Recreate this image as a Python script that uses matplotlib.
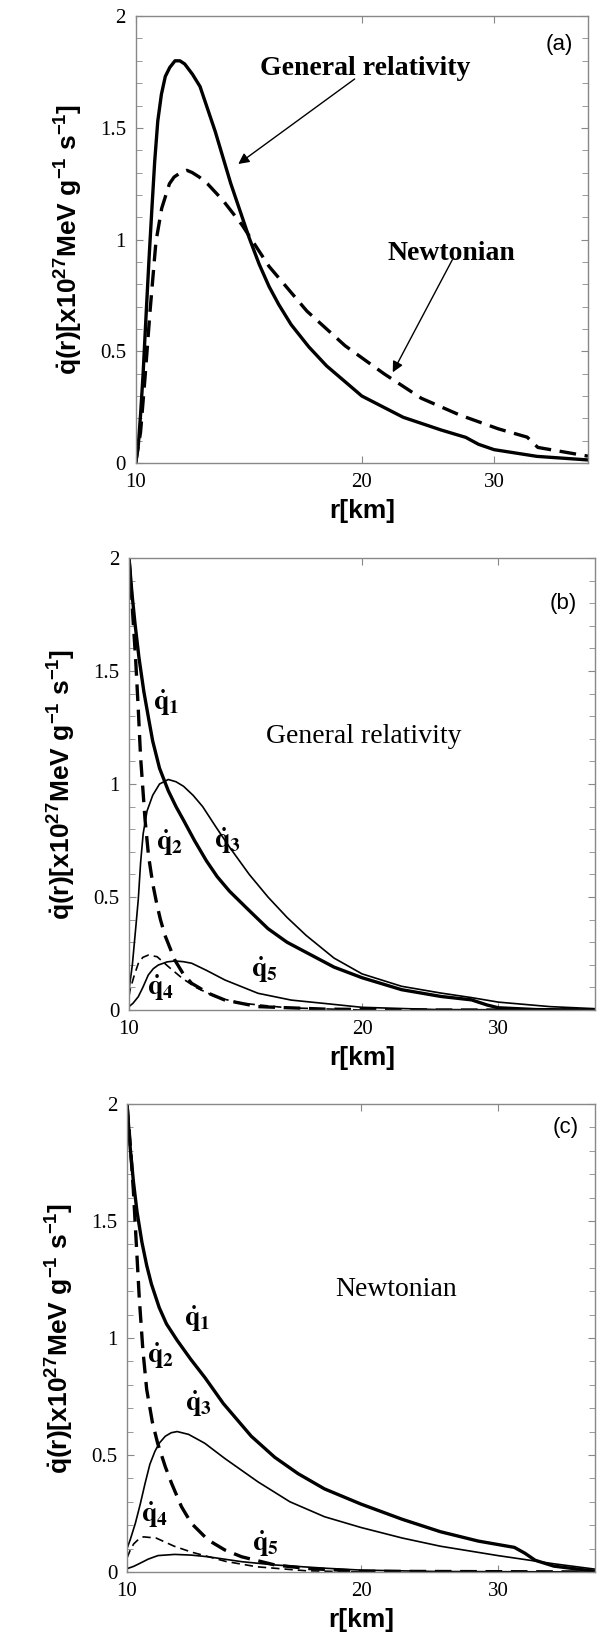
import matplotlib
matplotlib.use("Agg")
import matplotlib.pyplot as plt
from matplotlib.ticker import FixedLocator, NullLocator, MultipleLocator

plt.rcParams['font.family'] = ['Liberation Serif', 'DejaVu Serif']
plt.rcParams['mathtext.fontset'] = 'custom'
plt.rcParams['mathtext.rm'] = 'Liberation Sans'
plt.rcParams['mathtext.bf'] = 'Liberation Sans:bold'
plt.rcParams['mathtext.it'] = 'Liberation Sans:italic'

# ---- panel (a): total emission, GR vs Newtonian
r_a_gr = [10.0, 10.08, 10.15, 10.23, 10.33, 10.42, 10.51, 10.6, 10.7, 10.82, 10.95, 11.1,
          11.28, 11.45, 11.62, 11.9, 12.18, 12.76, 13.38, 14.17, 14.6, 15.05, 15.5, 16.1,
          17.0, 17.95, 20.0, 22.7, 25.5, 27.5, 28.6, 30.0, 34.2, 40.0]
q_a_gr = [0.0, 0.08, 0.216, 0.40, 0.68, 0.92, 1.14, 1.35, 1.53, 1.65, 1.73, 1.77,
          1.80, 1.80, 1.786, 1.74, 1.685, 1.484, 1.252, 1.005, 0.89, 0.79, 0.71, 0.62,
          0.52, 0.435, 0.30, 0.205, 0.148, 0.115, 0.084, 0.06, 0.03, 0.014]
r_a_nw = [10.0, 10.15, 10.3, 10.45, 10.64, 10.83, 11.09, 11.25, 11.48, 11.7, 11.89, 12.15,
          12.46, 13.07, 13.85, 15.05, 16.9, 19.0, 21.4, 24.0, 27.0, 30.4, 33.2, 34.3, 40.0]
q_a_nw = [0.0, 0.138, 0.40, 0.68, 0.99, 1.14, 1.25, 1.28, 1.30, 1.31, 1.30, 1.28,
          1.25, 1.175, 1.066, 0.88, 0.68, 0.525, 0.40, 0.29, 0.215, 0.153, 0.116, 0.07, 0.031]

# ---- panel (b): components, general relativity
r_b1 = [10.0, 10.09, 10.18, 10.3, 10.45, 10.6, 10.73, 10.95, 11.24, 11.5, 11.76, 12.15,
        12.59, 13.0, 13.49, 14.3, 15.12, 16.0, 16.94, 18.4, 20.0, 22.5, 25.3, 27.7, 29.0,
        30.0, 33.6, 40.0]
q_b1 = [2.0, 1.84, 1.71, 1.56, 1.41, 1.29, 1.19, 1.07, 0.97, 0.90, 0.84, 0.75,
        0.66, 0.59, 0.525, 0.44, 0.36, 0.30, 0.255, 0.19, 0.143, 0.09, 0.06, 0.045, 0.0225,
        0.01, 0.002, 0.0]
r_b2 = [10.0, 10.06, 10.12, 10.2, 10.28, 10.35, 10.49, 10.6, 10.73, 10.86, 10.98, 11.13,
        11.46, 11.75, 12.05, 12.67, 13.3, 14.68, 17.9, 25.0, 40.0]
q_b2 = [2.0, 1.88, 1.73, 1.55, 1.33, 1.12, 0.84, 0.68, 0.56, 0.47, 0.40, 0.33,
        0.221, 0.16, 0.118, 0.074, 0.044, 0.015, 0.004, 0.0, 0.0]
r_b3 = [10.0, 10.1, 10.2, 10.28, 10.35, 10.43, 10.55, 10.73, 10.95, 11.24, 11.5, 11.76,
        12.1, 12.45, 12.95, 13.49, 14.3, 15.12, 16.0, 16.94, 18.4, 20.0, 22.5, 25.3, 27.7,
        30.0, 35.0, 40.0]
q_b3 = [0.09, 0.2, 0.36, 0.49, 0.65, 0.78, 0.88, 0.95, 1.0, 1.02, 1.01, 0.99,
        0.95, 0.90, 0.81, 0.72, 0.60, 0.50, 0.41, 0.33, 0.23, 0.16, 0.105, 0.075, 0.055,
        0.035, 0.015, 0.006]
r_b4 = [10.0, 10.03, 10.15, 10.28, 10.42, 10.59, 10.87, 11.26, 11.72, 12.2, 13.0, 14.0, 16.0, 20.0]
q_b4 = [0.06, 0.088, 0.15, 0.206, 0.233, 0.243, 0.236, 0.19, 0.14, 0.1, 0.055, 0.03, 0.01, 0.0]
r_b5 = [10.0, 10.12, 10.28, 10.42, 10.59, 10.75, 10.91, 11.2, 11.46, 11.75, 12.05, 12.6,
        13.3, 14.68, 16.2, 17.9, 20.0, 25.0, 40.0]
q_b5 = [0.015, 0.03, 0.059, 0.1, 0.155, 0.183, 0.199, 0.213, 0.217, 0.214, 0.207, 0.175,
        0.133, 0.074, 0.044, 0.029, 0.012, 0.002, 0.0]

# ---- panel (c): components, Newtonian
r_c1 = [10.0, 10.09, 10.19, 10.3, 10.45, 10.6, 10.75, 11.0, 11.24, 11.6, 12.07, 12.6,
        13.3, 14.45, 15.49, 16.6, 17.95, 20.0, 22.6, 25.3, 28.3, 31.5, 32.5, 33.5, 35.4, 40.0]
q_c1 = [2.0, 1.82, 1.67, 1.54, 1.41, 1.31, 1.23, 1.13, 1.06, 0.99, 0.91, 0.83,
        0.72, 0.58, 0.49, 0.42, 0.355, 0.29, 0.225, 0.172, 0.132, 0.105, 0.08, 0.05, 0.025, 0.003]
r_c2 = [10.0, 10.1, 10.19, 10.28, 10.37, 10.48, 10.6, 10.78, 10.95, 11.2, 11.41, 11.75,
        12.1, 12.71, 13.36, 14.04, 15.49, 17.05, 20.0, 40.0]
q_c2 = [2.0, 1.82, 1.63, 1.40, 1.17, 0.95, 0.78, 0.64, 0.55, 0.45, 0.379, 0.279,
        0.208, 0.137, 0.094, 0.065, 0.03, 0.015, 0.003, 0.0]
r_c3 = [10.0, 10.1, 10.25, 10.4, 10.55, 10.7, 10.86, 11.0, 11.2, 11.4, 11.6, 12.0, 12.59,
        13.36, 14.74, 16.2, 17.95, 20.0, 22.6, 25.3, 30.0, 35.4, 40.0]
q_c3 = [0.1, 0.14, 0.208, 0.29, 0.379, 0.46, 0.515, 0.55, 0.58, 0.595, 0.60, 0.588, 0.55,
        0.485, 0.385, 0.30, 0.236, 0.19, 0.145, 0.11, 0.07, 0.035, 0.012]
r_c4 = [10.0, 10.1, 10.2, 10.35, 10.5, 10.9, 11.5, 12.1, 13.4, 14.7, 17.0, 20.0]
q_c4 = [0.06, 0.095, 0.12, 0.14, 0.15, 0.145, 0.11, 0.085, 0.045, 0.022, 0.005, 0.0]
r_c5 = [10.0, 10.2, 10.39, 10.65, 10.96, 11.52, 12.1, 12.71, 14.04, 15.49, 17.97, 20.0, 25.0, 40.0]
q_c5 = [0.014, 0.024, 0.037, 0.055, 0.07, 0.075, 0.072, 0.065, 0.044, 0.03, 0.016, 0.008, 0.002, 0.0]

xticks = [10, 20, 30]
xticklabels = ['10', '20', '30']
yticks = [0, 0.5, 1, 1.5, 2]
yticklabels = ['0', '0.5', '1', '1.5', '2']

ylab = r'$\mathbf{\dot{q}(r)[x10^{27}MeV\ g^{-1}\ s^{-1}]}$'

fig = plt.figure(figsize=(6.02, 16.45), dpi=100)
ax_a = fig.add_axes([0.2254, 0.7185, 0.7513, 0.2717])
ax_b = fig.add_axes([0.2143, 0.3860, 0.7741, 0.2748])
ax_c = fig.add_axes([0.2110, 0.0444, 0.7774, 0.2845])

thick = 2.4
thin = 1.2
dash = (0, (5, 2.6))

for ax in (ax_a, ax_b, ax_c):
    ax.set_xscale('log')
    ax.set_xlim(10, 40)
    ax.set_ylim(0, 2)
    ax.xaxis.set_major_locator(FixedLocator(xticks))
    ax.set_xticklabels(xticklabels)
    ax.xaxis.set_minor_locator(NullLocator())
    ax.set_yticks(yticks)
    ax.set_yticklabels(yticklabels)
    ax.yaxis.set_minor_locator(MultipleLocator(0.1))
    ax.tick_params(which='both', direction='in', top=True, right=True,
                   color='#888888', labelsize=15, pad=7)
    ax.tick_params(which='major', length=5)
    ax.tick_params(which='minor', length=4)
    for s in ax.spines.values():
        s.set_color('#888888')
        s.set_linewidth(1.0)
    ax.set_xlabel('r[km]', family='Liberation Sans', weight='bold', fontsize=19, labelpad=5)
    ax.set_ylabel(ylab, fontsize=19, labelpad=11)

# (a)
ax_a.plot(r_a_gr, q_a_gr, color='black', lw=thick)
ax_a.plot(r_a_nw, q_a_nw, color='black', lw=thick, ls=dash)
ax_a.text(36.6, 1.873, '(a)', family='Liberation Sans', fontsize=16, ha='center', va='center')
ax_a.annotate('', xy=(13.6, 1.331), xytext=(19.7, 1.726),
              arrowprops=dict(arrowstyle='-|>', color='black', lw=1.0, mutation_scale=16))
ax_a.annotate('', xy=(21.9, 0.395), xytext=(26.5, 0.921),
              arrowprops=dict(arrowstyle='-|>', color='black', lw=1.0, mutation_scale=16))
ax_a.text(20.2, 1.765, 'General relativity', weight='bold', fontsize=20, ha='center', va='center')
ax_a.text(26.3, 0.937, 'Newtonian', weight='bold', fontsize=20, ha='center', va='center')

# (b)
ax_b.plot(r_b1, q_b1, color='black', lw=thick)
ax_b.plot(r_b2, q_b2, color='black', lw=thick, ls=dash)
ax_b.plot(r_b3, q_b3, color='black', lw=thin)
ax_b.plot(r_b4, q_b4, color='black', lw=thin, ls=(0, (5, 3)))
ax_b.plot(r_b5, q_b5, color='black', lw=thin)
ax_b.text(36.4, 1.80, '(b)', family='Liberation Sans', fontsize=16, ha='center', va='center')
ax_b.text(20.1, 1.209, 'General relativity', fontsize=20, ha='center', va='center')

# (c)
ax_c.plot(r_c1, q_c1, color='black', lw=thick)
ax_c.plot(r_c2, q_c2, color='black', lw=thick, ls=dash)
ax_c.plot(r_c3, q_c3, color='black', lw=thin)
ax_c.plot(r_c4, q_c4, color='black', lw=thin, ls=(0, (5, 3)))
ax_c.plot(r_c5, q_c5, color='black', lw=thin)
ax_c.text(36.7, 1.90, '(c)', family='Liberation Sans', fontsize=16, ha='center', va='center')
ax_c.text(22.2, 1.208, 'Newtonian', fontsize=20, ha='center', va='center')

labels_b = [(11.18, 1.36, '1'), (11.3, 0.74, '2'), (13.41, 0.75, '3'), (10.98, 0.10, '4'), (14.95, 0.18, '5')]
labels_c = [(12.3, 1.08, '1'), (11.03, 0.923, '2'), (12.35, 0.72, '3'), (10.85, 0.244, '4'), (15.05, 0.12, '5')]
for ax, labs in ((ax_b, labels_b), (ax_c, labels_c)):
    for x, y, n in labs:
        ax.text(x, y, r'$\mathbf{\dot{q}_{%s}}$' % n, math_fontfamily='stix',
                fontsize=20, ha='center', va='center')

fig.savefig('out.png', dpi=100)
